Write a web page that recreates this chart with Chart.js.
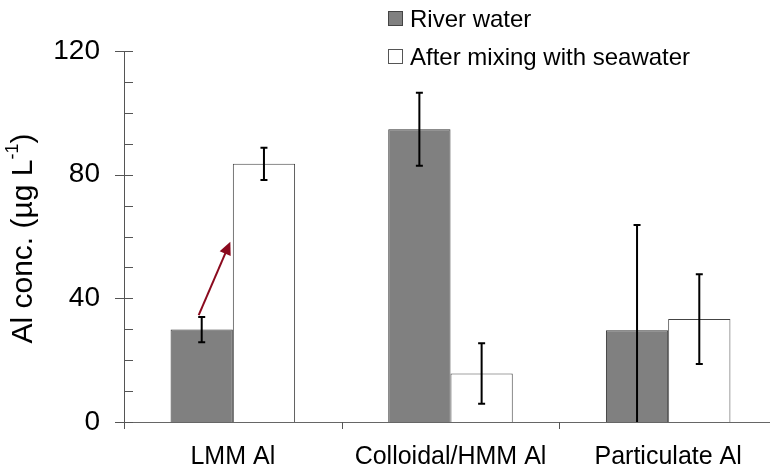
<!DOCTYPE html>
<html>
<head>
<meta charset="utf-8">
<script src="https://cdn.jsdelivr.net/npm/chart.js@4"></script>
<style>
    body { margin: 0; overflow: hidden; background: #fff; }
    #wrap { position: relative; width: 778px; height: 469px; }
    .legend { position: absolute; left: 388px; font: 24px "Liberation Sans", Arial, sans-serif; color: #000; line-height: 28px; }
    .legend span.box { display: inline-block; width: 13px; height: 13px; margin-right: 7px; vertical-align: 1px; }
</style>
</head>
<body>
<div id="wrap">
    <canvas id="chart" width="778" height="469"></canvas>
    <div class="legend" style="top: 5px;"><span class="box" style="background:#808080;border:1px solid #444;"></span>River water</div>
    <div class="legend" style="top: 43px;"><span class="box" style="background:#fff;border:1px solid #555;"></span>After mixing with seawater</div>
</div>
<script>
// Chart data
const categories = ['LMM Al', 'Colloidal/HMM Al', 'Particulate Al'];
const riverWater = [29.9, 94.7, 29.7];
const riverErr = [4.1, 11.8, 34];
const afterMixing = [83.5, 15.7, 33.3];
const afterErr = [5.2, 9.8, 14.5];
const yTicks = [0, 40, 80, 120];
// arrow on LMM Al: from value to value
const arrowFrom = 34.6;
const arrowTo = 58.3;

const FONT = '"Liberation Sans", Arial, sans-serif';

// Draw error bars, axis ticks, y title and arrow
const extras = {
    id: 'extras',
    afterDatasetsDraw(chart) {
        const ctx = chart.ctx;
        const x = chart.scales.x;
        const y = chart.scales.y;
        const area = chart.chartArea;
        const errs = [riverErr, afterErr];

        // error bars
        ctx.save();
        ctx.strokeStyle = '#000';
        ctx.lineWidth = 2;
        chart.data.datasets.forEach((ds, i) => {
            chart.getDatasetMeta(i).data.forEach((bar, j) => {
                const v = ds.data[j];
                const top = y.getPixelForValue(v + errs[i][j]);
                const bot = y.getPixelForValue(Math.max(0, v - errs[i][j]));
                ctx.beginPath();
                ctx.moveTo(bar.x, top);
                ctx.lineTo(bar.x, bot);
                ctx.moveTo(bar.x - 3.5, top);
                ctx.lineTo(bar.x + 3.5, top);
                if (v - errs[i][j] > 0) {
                    ctx.moveTo(bar.x - 3.5, bot);
                    ctx.lineTo(bar.x + 3.5, bot);
                }
                ctx.stroke();
            });
        });
        ctx.restore();

        // y axis ticks (major cross the axis, minor inside)
        ctx.save();
        ctx.strokeStyle = '#555';
        ctx.lineWidth = 1;
        ctx.beginPath();
        for (let v = 0; v <= 120; v += 10) {
            const py = Math.round(y.getPixelForValue(v)) + 0.5;
            const major = v % 40 === 0;
            ctx.moveTo(area.left - (major ? 9 : 0), py);
            ctx.lineTo(area.left + 9, py);
        }
        // x axis ticks at category boundaries
        for (let i = 0; i < categories.length; i++) {
            const px = Math.round(x.getPixelForValue(i) - (x.getPixelForValue(1) - x.getPixelForValue(0)) / 2) + 0.5;
            ctx.moveTo(px, area.bottom);
            ctx.lineTo(px, area.bottom + 7);
        }
        ctx.stroke();
        ctx.restore();

        // y title with superscript
        ctx.save();
        ctx.translate(24, (area.top + area.bottom) / 2 + 2);
        ctx.rotate(-Math.PI / 2);
        ctx.fillStyle = '#000';
        ctx.textBaseline = 'middle';
        const main = 'Al conc. (\u00b5g L';
        const sup = '-1';
        const end = ')';
        ctx.font = '30px ' + FONT;
        const w1 = ctx.measureText(main).width;
        const w3 = ctx.measureText(end).width;
        ctx.font = '18px ' + FONT;
        const w2 = ctx.measureText(sup).width;
        let sx = -(w1 + w2 + w3) / 2;
        ctx.font = '30px ' + FONT;
        ctx.fillText(main, sx, 0);
        sx += w1;
        ctx.font = '18px ' + FONT;
        ctx.fillText(sup, sx, -11);
        sx += w2;
        ctx.font = '30px ' + FONT;
        ctx.fillText(end, sx, 0);
        ctx.restore();

        // arrow
        const bar = chart.getDatasetMeta(0).data[0];
        const x0 = bar.x - 3;
        const y0 = y.getPixelForValue(arrowFrom);
        const x1 = bar.x + bar.width / 2 - 2.5;
        const y1 = y.getPixelForValue(arrowTo);
        const ang = Math.atan2(y1 - y0, x1 - x0);
        ctx.save();
        ctx.strokeStyle = '#8b0a1e';
        ctx.fillStyle = '#8b0a1e';
        ctx.lineWidth = 2;
        ctx.beginPath();
        ctx.moveTo(x0, y0);
        ctx.lineTo(x1 - 10 * Math.cos(ang), y1 - 10 * Math.sin(ang));
        ctx.stroke();
        ctx.beginPath();
        ctx.moveTo(x1, y1);
        ctx.lineTo(x1 - 13 * Math.cos(ang) + 6 * Math.sin(ang), y1 - 13 * Math.sin(ang) - 6 * Math.cos(ang));
        ctx.lineTo(x1 - 13 * Math.cos(ang) - 6 * Math.sin(ang), y1 - 13 * Math.sin(ang) + 6 * Math.cos(ang));
        ctx.closePath();
        ctx.fill();
        ctx.restore();
    }
};

new Chart(document.getElementById('chart'), {
    type: 'bar',
    data: {
        labels: categories,
        datasets: [{
            label: 'River water',
            data: riverWater,
            backgroundColor: '#808080',
            borderColor: '#333',
            borderWidth: 1,
        }, {
            label: 'After mixing with seawater',
            data: afterMixing,
            backgroundColor: '#ffffff',
            borderColor: '#444',
            borderWidth: 1,
        }],
    },
    options: {
        responsive: false,
        animation: false,
        layout: { padding: { top: 51, right: 1, left: 0, bottom: 0 } },
        datasets: { bar: { barPercentage: 1, categoryPercentage: 0.572 } },
        plugins: {
            legend: { display: false },
            tooltip: { enabled: false },
        },
        scales: {
            x: {
                grid: { display: false, drawTicks: false },
                border: { display: true, color: '#666', width: 1 },
                ticks: { color: '#000', font: { family: FONT, size: 25 }, padding: 20, maxRotation: 0 },
                afterFit(scale) { scale.height = 47; },
            },
            y: {
                min: 0,
                max: 120,
                afterBuildTicks(scale) { scale.ticks = yTicks.map((v) => ({ value: v })); },
                grid: { display: false, drawTicks: false },
                border: { display: true, color: '#555', width: 1 },
                ticks: { color: '#000', font: { family: FONT, size: 28 }, padding: 24 },
                afterFit(scale) { scale.width = 124; },
            },
        },
    },
    plugins: [extras],
});
</script>
</body>
</html>
